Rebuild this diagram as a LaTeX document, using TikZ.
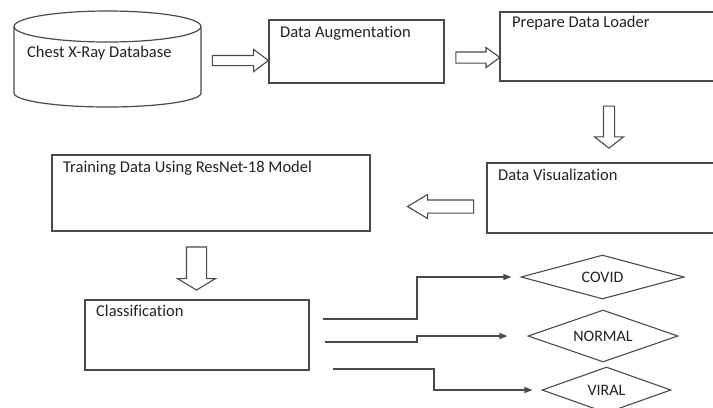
\documentclass[tikz,border=0pt]{standalone}
\usepackage{fontspec}
\setmainfont{Carlito}[Ligatures=NoCommon]
\usetikzlibrary{shapes.geometric,shapes.arrows,arrows.meta}
\definecolor{linec}{HTML}{4A4A4A}
\definecolor{txtc}{HTML}{222222}
\tikzset{
  boxnode/.style={draw=linec, line width=1.2bp, rectangle, inner sep=0pt},
  lbl/.style={anchor=base west, inner sep=0pt, text=txtc, font=\fontsize{16.5bp}{18bp}\selectfont},
  blockarrow/.style={single arrow, draw=linec, line width=1.1bp, fill=white, inner xsep=0pt, single arrow head indent=0pt},
  dia/.style={diamond, draw=linec, line width=1.1bp, inner sep=0pt, aspect=3, text=txtc, font=\fontsize{16bp}{18bp}\selectfont},
  conn/.style={draw=linec, line width=1.2bp, -{Triangle[length=8bp,width=6bp]}}
}
\begin{document}
\begin{tikzpicture}[x=1bp,y=1bp]
\useasboundingbox (0,0) rectangle (713,-407);
% cylinder
\draw[linec, line width=1.2bp] (14,-26.5) -- (14,-93) arc[start angle=180, end angle=360, x radius=93.5, y radius=14] -- (201,-26.5);
\draw[linec, line width=1.2bp, fill=white] (107.5,-26.5) ellipse[x radius=93.5, y radius=15.5];
\node[lbl] (db) at (27,-57) {Chest X-Ray Database};
% boxes
\node[boxnode, minimum width=175bp, minimum height=63bp] (aug) at (356.5,-51.5) {};
\node[lbl] (augt) at (280,-37) {Data Augmentation};
\node[boxnode, minimum width=214bp, minimum height=69bp] (load) at (607,-46.5) {};
\node[lbl] (loadt) at (512,-27) {Prepare Data Loader};
\node[boxnode, minimum width=227bp, minimum height=70bp] (vis) at (600.5,-198) {};
\node[lbl] (vist) at (498,-180) {Data Visualization};
\node[boxnode, minimum width=318bp, minimum height=76bp] (train) at (211,-193) {};
\node[lbl] (traint) at (63,-172) {Training Data Using ResNet-18 Model};
\node[boxnode, minimum width=224bp, minimum height=70bp] (cls) at (197,-335) {};
\node[lbl] (clst) at (96,-316) {Classification};
% block arrows
\node[blockarrow, inner ysep=4.5bp, single arrow head extend=6bp, single arrow tip angle=74, minimum height=56bp] (a1) at (237,-60.5) {};
\node[blockarrow, inner ysep=5bp, single arrow head extend=4.5bp, single arrow tip angle=72, minimum height=44bp] (a2) at (474,-57.5) {};
\node[blockarrow, rotate=-90, inner ysep=5bp, single arrow head extend=9bp, single arrow tip angle=104, minimum height=42bp] (a3) at (609,-125) {};
\node[blockarrow, rotate=180, inner ysep=6bp, single arrow head extend=5.5bp, single arrow tip angle=62, minimum height=66bp] (a4) at (446,-206.5) {};
\node[blockarrow, rotate=-90, inner ysep=9.5bp, single arrow head extend=9bp, single arrow tip angle=118, minimum height=43bp] (a5) at (196.5,-265.5) {};
% diamonds
\node[dia, minimum width=163bp, minimum height=44bp] (covid) at (602.5,-277) {COVID};
\node[dia, minimum width=150bp, minimum height=52bp] (normal) at (603,-336) {NORMAL};
\node[dia, minimum width=129bp, minimum height=46bp] (viral) at (606.5,-390) {VIRAL};
% connectors
\coordinate (c1) at (323,-319);
\coordinate (c2) at (325,-342);
\coordinate (c3) at (333,-369);
\draw[conn, shorten >=9bp] (c1) -- ++(94,0) |- (covid.west);
\draw[conn, shorten >=20bp] (c2) -- ++(92,0) |- (normal.west);
\draw[conn, shorten >=9bp] (c3) -- ++(101,0) |- (viral.west);
\end{tikzpicture}
\end{document}
